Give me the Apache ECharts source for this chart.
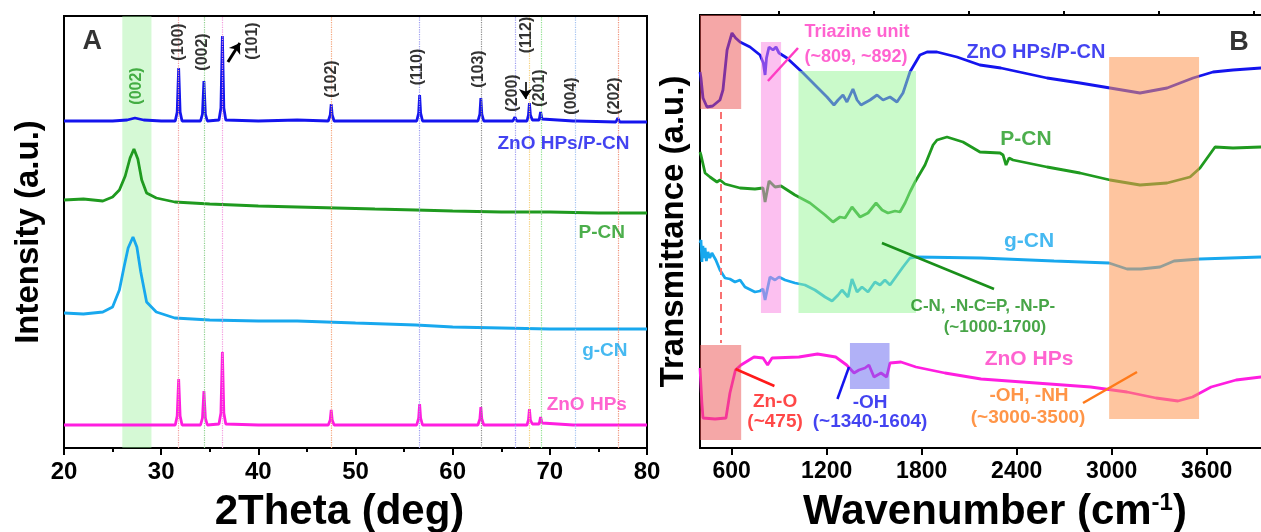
<!DOCTYPE html>
<html>
<head>
<meta charset="utf-8">
<script src="https://cdn.jsdelivr.net/npm/echarts@6/dist/echarts.min.js"></script>
<style>
  html, body { margin: 0; padding: 0; background: #fff; }
  #chart { width: 1261px; height: 532px; }
</style>
</head>
<body>
<div id="chart"></div>
<script>
// -----------------------------------------------------------------------------
// (A) XRD patterns - 2theta (deg) vs stacked intensity (a.u.)
// -----------------------------------------------------------------------------
const xrdComposite = [
  [20, 327], [25, 327], [26.5, 328], [27.3, 330], [28.2, 328], [30, 327],
  [31.45, 327], [31.65, 336], [31.8, 380], [31.95, 336], [32.15, 327],
  [34.05, 327], [34.25, 334], [34.4, 367], [34.55, 334], [34.75, 327],
  [35.95, 328], [36.15, 340], [36.3, 412], [36.45, 340], [36.65, 328],
  [40, 327], [44, 328], [47.2, 327], [47.4, 333], [47.5, 344], [47.6, 333], [47.8, 327],
  [56.3, 327], [56.5, 335], [56.6, 353], [56.7, 335], [56.9, 327],
  [62.6, 327], [62.8, 334], [62.9, 350], [63.0, 334], [63.2, 327],
  [66.2, 327], [66.4, 331], [66.6, 327],
  [67.65, 327], [67.8, 333], [67.9, 345], [68.0, 333], [68.2, 328],
  [68.9, 328], [69.05, 336], [69.2, 329], [69.4, 327],
  [72.4, 327], [72.6, 329], [72.8, 327], [76.8, 326], [77.0, 330], [77.2, 326], [80, 326]
];
const xrdPCN = [
  [20, 248], [22, 249], [24, 247], [25, 251], [25.7, 258], [26.3, 272], [26.8, 290],
  [27.2, 299], [27.6, 289], [28.0, 268], [28.5, 255], [29.5, 250], [31.4, 246],
  [35, 244], [40, 242], [44, 241], [48, 240], [52, 239], [56.2, 238], [60, 237],
  [65, 236], [70, 236], [75, 235], [80, 235]
];
const xrdGCN = [
  [20, 135], [22, 134], [24, 136], [25, 141], [25.7, 158], [26.2, 182], [26.6, 200],
  [27.1, 211], [27.5, 201], [27.9, 176], [28.5, 146], [29.5, 136], [31.4, 130],
  [35, 128], [40, 127], [44, 127], [50, 125], [56.2, 123], [60, 121], [65, 120],
  [70, 119], [80, 119]
];
const xrdZnO = [
  [20, 23], [25, 23], [30, 23],
  [31.45, 23], [31.65, 32], [31.8, 69], [31.95, 32], [32.15, 23],
  [34.05, 23], [34.25, 30], [34.4, 57], [34.55, 30], [34.75, 23],
  [35.95, 24], [36.15, 35], [36.3, 96], [36.45, 35], [36.65, 24],
  [40, 23], [47.2, 23], [47.4, 28], [47.5, 38], [47.6, 28], [47.8, 23],
  [56.3, 23], [56.5, 30], [56.6, 44], [56.7, 30], [56.9, 23],
  [62.6, 23], [62.8, 29], [62.9, 41], [63.0, 29], [63.2, 23],
  [66.2, 23], [66.4, 25], [66.6, 23],
  [67.65, 23], [67.8, 28], [67.9, 39], [68.0, 28], [68.2, 24],
  [68.9, 24], [69.05, 31], [69.2, 25], [69.4, 23],
  [72.4, 23], [72.6, 24], [72.8, 23], [76.8, 23], [77.0, 25], [77.2, 23], [80, 23]
];
const znoPeaks = [31.8, 34.4, 36.3, 47.5, 56.6, 62.9, 66.4, 67.9, 69.1, 72.6, 77.0];
const znoHkl = ["(100)", "(002)", "(101)", "(102)", "(110)", "(103)", "(200)", "(112)", "(201)", "(004)", "(202)"];
const gcnBand = [26, 29];

// -----------------------------------------------------------------------------
// (B) FTIR spectra - wavenumber (cm-1) vs stacked transmittance (a.u.)
// -----------------------------------------------------------------------------
const ftirComposite = [
  [400, 376], [406, 370], [419, 350], [444, 341], [480, 342], [526, 348], [545, 358],
  [571, 398], [602, 415], [625, 410], [653, 406], [716, 401], [779, 393], [800, 385],
  [811, 373], [820, 390], [836, 401], [861, 398], [880, 401], [899, 395], [949, 390],
  [1051, 375], [1139, 361], [1202, 351], [1246, 343], [1272, 348], [1303, 353],
  [1328, 346], [1366, 359], [1392, 348], [1417, 343], [1474, 348], [1518, 353],
  [1556, 348], [1600, 351], [1644, 346], [1682, 355], [1726, 376], [1789, 393],
  [1834, 396], [1897, 396], [2023, 391], [2168, 383], [2300, 380], [2592, 370],
  [2800, 365], [2990, 360], [3179, 355], [3350, 360], [3514, 370], [3640, 376],
  [3766, 378], [3943, 380], [4000, 380]
];
const ftirPCN = [
  [400, 296], [406, 293], [432, 275], [463, 271], [507, 266], [526, 268], [558, 264],
  [653, 260], [747, 259], [798, 260], [811, 246], [836, 267], [874, 261], [912, 262],
  [1000, 253], [1095, 245], [1190, 233], [1240, 226], [1284, 231], [1316, 230],
  [1360, 241], [1411, 231], [1461, 235], [1512, 245], [1550, 238], [1587, 235],
  [1632, 237], [1663, 236], [1695, 245], [1726, 256], [1758, 266], [1821, 283],
  [1872, 303], [1897, 308], [1960, 311], [2061, 306], [2168, 296], [2295, 295],
  [2314, 293], [2333, 283], [2352, 290], [2377, 288], [2592, 281], [2800, 275],
  [2990, 268], [3179, 263], [3350, 265], [3495, 271], [3558, 280], [3653, 301],
  [3766, 300], [3943, 301], [4000, 301]
];
const ftirGCN = [
  [400, 205], [406, 208], [412, 186], [418, 202], [425, 190], [432, 200], [440, 187],
  [450, 196], [462, 190], [475, 195], [482, 193], [500, 188], [526, 178], [558, 170],
  [589, 169], [621, 166], [653, 168], [684, 161], [747, 156], [779, 157], [798, 159],
  [811, 148], [842, 171], [874, 168], [899, 171], [937, 168], [1000, 165], [1063, 163],
  [1126, 158], [1190, 151], [1234, 147], [1272, 153], [1297, 158], [1335, 151],
  [1360, 169], [1392, 156], [1423, 161], [1461, 156], [1505, 166], [1537, 163],
  [1568, 168], [1600, 163], [1632, 170], [1682, 181], [1726, 190], [1764, 191],
  [2175, 190], [2636, 187], [2983, 185], [3097, 179], [3185, 179], [3305, 181],
  [3394, 187], [3558, 189], [3943, 191], [4000, 191]
];
const ftirZnO = [
  [400, 80], [406, 80], [412, 45], [419, 30], [495, 29], [564, 30], [589, 55], [624, 78],
  [659, 83], [741, 91], [798, 90], [827, 83], [855, 90], [1025, 91], [1142, 94],
  [1257, 91], [1326, 83], [1373, 75], [1404, 78], [1442, 80], [1467, 83], [1499, 71],
  [1543, 75], [1579, 71], [1600, 85], [1669, 86], [1764, 81], [1947, 75], [2175, 69],
  [2522, 65], [2867, 61], [3097, 56], [3280, 50], [3419, 47], [3511, 51], [3628, 61],
  [3786, 68], [3943, 71], [4000, 71]
];
const ftirTicks = [600, 1200, 1800, 2400, 3000, 3600];
const ftirMinorTicks = [900, 1500, 2100, 2700, 3300, 3900];
const znoBand = [400, 660];
const triazineBand = [785, 912];
const cnBand = [1022, 1764];
const ohBand = [1347, 1597];
const ohnhBand = [2984, 3552];
const znoLine = 533;

// -----------------------------------------------------------------------------
// styles / annotation layout
// -----------------------------------------------------------------------------
const FONT = '"Liberation Sans", Arial, sans-serif';
const C = {
  blue: "#1414ee", green: "#1f9a1f", cyan: "#18a8ee", pink: "#ff1ee0",
  red: "#ff1a1a", orange: "#ff7a1a", pinkText: "#ff3cc4", greenText: "#1a8f1a"
};
const guideColors = ["#f2a0a0", "#8ed08e", "#f39ade", "#f4a47a", "#9d9df0", "#8a8a8a",
  "#9d9df0", "#f5d07a", "#8edf8e", "#a3c2f0", "#f0927a"];

// [x, y, text, color, fontSize, rotate]
const notesA = [
  [22.9, 406, "A", "#000", 27, 0],
  [71.4, 304, "ZnO HPs/P-CN", C.blue, 19, 0],
  [75.35, 215, "P-CN", C.green, 19, 0],
  [75.66, 97, "g-CN", C.cyan, 19, 0],
  [73.8, 43, "ZnO HPs", C.pinkText, 19, 0],
  [27.5, 362, "(002)", C.green, 16, 90],
  [31.8, 406, znoHkl[0], "#000", 16, 90],
  [34.3, 396, znoHkl[1], "#000", 16, 90],
  [39.4, 407, znoHkl[2], "#000", 16, 90],
  [47.5, 369, znoHkl[3], "#000", 16, 90],
  [56.4, 381, znoHkl[4], "#000", 16, 90],
  [62.7, 379, znoHkl[5], "#000", 16, 90],
  [66.2, 355, znoHkl[6], "#000", 16, 90],
  [67.6, 413, znoHkl[7], "#000", 16, 90],
  [68.95, 360, znoHkl[8], "#000", 16, 90],
  [72.2, 352, znoHkl[9], "#000", 16, 90],
  [76.7, 352, znoHkl[10], "#000", 16, 90]
];
const notesB = [
  [3804, 405, "B", "#000", 27],
  [2522, 396, "ZnO HPs/P-CN", C.blue, 20],
  [2459, 309, "P-CN", C.green, 21],
  [2478, 207, "g-CN", C.cyan, 21],
  [2478, 89, "ZnO HPs", C.pinkText, 21],
  [1392, 416, "Triazine unit", C.pinkText, 18],
  [1385, 391, "(~809, ~892)", C.pinkText, 18],
  [2187, 142, "C-N, -N-C=P, -N-P-", C.greenText, 17],
  [2263, 121, "(~1000-1700)", C.greenText, 17],
  [874, 46, "Zn-O", C.red, 19],
  [874, 26, "(~475)", C.red, 19],
  [1474, 45, "-OH", C.blue, 19],
  [1474, 26, "(~1340-1604)", C.blue, 19],
  [2478, 52, "-OH, -NH", C.orange, 19],
  [2472, 30, "(~3000-3500)", C.orange, 19]
];

function textSeries(notes, xi, yi) {
  return {
    type: "scatter", xAxisIndex: xi, yAxisIndex: yi, symbolSize: 0, silent: true, z: 20,
    data: notes.map(([x, y, text, color, size, rot]) => ({
      value: [x, y],
      label: {
        show: true, position: "inside", formatter: text, color: color, fontSize: size,
        fontWeight: "bold", fontFamily: FONT, rotate: rot || 0
      }
    }))
  };
}

function seg(a, b, color, width, endSymbol) {
  return [
    { coord: a, symbol: "none", lineStyle: { color: color, width: width, type: "solid" } },
    { coord: b, symbol: endSymbol || "none", symbolSize: 10 }
  ];
}

function box(xr, yr, color) {
  return [{ coord: [xr[0], yr[0]], itemStyle: { color: color } }, { coord: [xr[1], yr[1]] }];
}

function curve(name, data, color, xi, yi, extra) {
  return Object.assign({
    name: name, type: "line", xAxisIndex: xi, yAxisIndex: yi, data: data,
    showSymbol: false, symbol: "none", silent: true,
    lineStyle: { color: color, width: 2.8 }, z: 3
  }, extra || {});
}

const axisTitle = (size) => ({ fontFamily: FONT, fontWeight: "bold", fontSize: size, color: "#000" });

const option = {
  animation: false,
  grid: [
    { left: 64, top: 16, width: 583, height: 432, show: true, borderColor: "#000", borderWidth: 2, outerBoundsMode: "none" },
    { left: 700, top: 15, width: 570, height: 433, show: true, borderColor: "#000", borderWidth: 2, outerBoundsMode: "none" }
  ],
  xAxis: [
    {
      gridIndex: 0, type: "value", min: 20, max: 80, interval: 10,
      name: "2Theta (deg)", nameLocation: "middle", nameGap: 43,
      nameTextStyle: Object.assign(axisTitle(42), { padding: [0, 32, 0, 0] }),
      axisLine: { show: true, lineStyle: { color: "#000", width: 2 } },
      axisTick: { show: true, inside: false, length: 7, lineStyle: { color: "#000", width: 2 } },
      minorTick: { show: true, splitNumber: 2, length: 4, lineStyle: { color: "#000", width: 2 } },
      axisLabel: { margin: 12, fontSize: 24, fontWeight: "bold", color: "#000", fontFamily: FONT },
      splitLine: { show: false }
    },
    {
      gridIndex: 1, type: "value", min: 400, max: 4000,
      name: "{t|Wavenumber (cm}{s|-1}{t|)}", nameLocation: "middle", nameGap: 43,
      nameTextStyle: {
        padding: [0, 0, 0, 20],
        rich: {
          t: axisTitle(42),
          s: Object.assign(axisTitle(24), { verticalAlign: "top" })
        }
      },
      axisLine: { show: true, lineStyle: { color: "#000", width: 2 } },
      axisTick: { show: true, inside: false, length: 7, customValues: ftirTicks, lineStyle: { color: "#000", width: 2 } },
      axisLabel: {
        margin: 12, fontSize: 23, fontWeight: "bold", color: "#000", fontFamily: FONT,
        customValues: ftirTicks, formatter: (v) => String(v)
      },
      splitLine: { show: false }
    },
    {
      gridIndex: 1, type: "value", min: 400, max: 4000,
      axisLine: { show: false },
      axisTick: { show: true, inside: false, length: 4, customValues: ftirMinorTicks, lineStyle: { color: "#000", width: 2 } },
      axisLabel: { show: false, customValues: ftirMinorTicks },
      splitLine: { show: false }
    }
  ],
  yAxis: [
    {
      gridIndex: 0, type: "value", min: 0, max: 432,
      name: "Intensity (a.u.)", nameLocation: "middle", nameGap: 19,
      nameTextStyle: axisTitle(33),
      axisLine: { show: false }, axisTick: { show: false }, axisLabel: { show: false }, splitLine: { show: false }
    },
    {
      gridIndex: 1, type: "value", min: 0, max: 433,
      name: "Transmittance (a.u.)", nameLocation: "middle", nameGap: 10,
      nameTextStyle: axisTitle(33),
      axisLine: { show: false }, axisTick: { show: false }, axisLabel: { show: false }, splitLine: { show: false }
    }
  ],
  series: [
    // ---- panel A ----
    curve("ZnO HPs/P-CN", xrdComposite, C.blue, 0, 0),
    curve("P-CN", xrdPCN, C.green, 0, 0),
    curve("g-CN", xrdGCN, C.cyan, 0, 0),
    curve("ZnO HPs", xrdZnO, C.pink, 0, 0, {
      markArea: {
        silent: true, z: 1, label: { show: false },
        data: [[{ xAxis: gcnBand[0], itemStyle: { color: "rgba(150,240,150,0.4)" } }, { xAxis: gcnBand[1] }]]
      },
      markLine: {
        silent: true, symbol: ["none", "none"], label: { show: false }, animation: false,
        data: znoPeaks.map((p, i) => ({ xAxis: p, lineStyle: { color: guideColors[i], type: "dotted", width: 1.2 } }))
          .concat([
            seg([36.87, 386], [38.1, 405], "#000", 3, "arrow"),
            seg([67.5, 366], [67.5, 349], "#000", 1.6, "arrow")
          ])
      }
    }),
    textSeries(notesA, 0, 0),
    // ---- panel B ----
    curve("ZnO HPs/P-CN", ftirComposite, C.blue, 1, 1, {
      markArea: {
        silent: true, z: 10, label: { show: false },
        data: [
          box(znoBand, [339, 433], "rgba(236,80,80,0.5)"),
          box(znoBand, [8, 103], "rgba(236,80,80,0.5)"),
          box(triazineBand, [135, 406], "rgba(250,130,225,0.5)"),
          box(cnBand, [135, 377], "rgba(150,245,150,0.5)"),
          box(ohBand, [59, 105], "rgba(100,100,240,0.5)"),
          box(ohnhBand, [29, 391], "rgba(253,150,80,0.55)")
        ]
      }
    }),
    curve("P-CN", ftirPCN, C.green, 1, 1),
    curve("g-CN", ftirGCN, C.cyan, 1, 1),
    curve("ZnO HPs", ftirZnO, C.pink, 1, 1, {
      markLine: {
        silent: true, symbol: ["none", "none"], label: { show: false }, animation: false, z: 12,
        data: [
          [{ coord: [znoLine, 336], lineStyle: { color: "#f87171", width: 2, type: [7, 5] } }, { coord: [znoLine, 105] }],
          seg([829, 367], [1019, 400], C.pinkText, 2.5),
          seg([1549, 205], [2257, 159], C.greenText, 2.5),
          seg([624, 79], [870, 62], C.red, 2.5),
          seg([1341, 81], [1268, 49], C.blue, 2.5),
          seg([2819, 45], [3160, 76], C.orange, 2.5)
        ]
      }
    }),
    textSeries(notesB, 1, 1)
  ]
};

const chart = echarts.init(document.getElementById("chart"), null, { renderer: "canvas" });
chart.setOption(option);
</script>
</body>
</html>
